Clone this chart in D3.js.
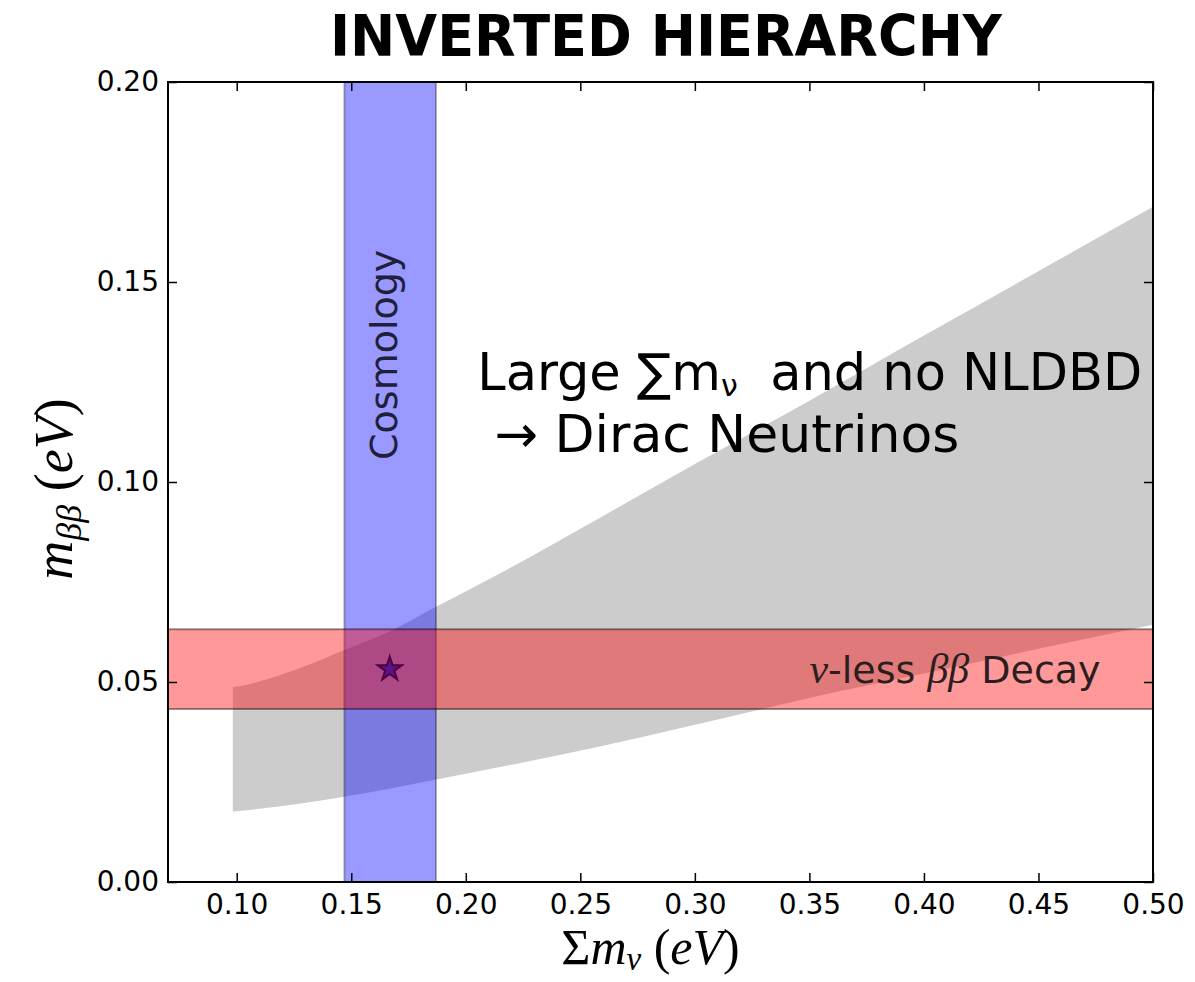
<!DOCTYPE html>
<html>
<head>
<meta charset="utf-8">
<script src="https://cdn.jsdelivr.net/npm/d3@7"></script>
<style>
  html, body { margin: 0; padding: 0; background: #fff; }
  svg { display: block; }
  text { white-space: pre; }
</style>
</head>
<body>
<svg id="chart" width="1195" height="982"></svg>
<script>
// Allowed region for the inverted hierarchy: upper and lower edges of m_bb vs sum of masses
const upperEdge = [
  [0.0983, 0.0487], [0.105, 0.0494], [0.115, 0.0510], [0.130, 0.0540],
  [0.147, 0.0580], [0.167, 0.0627], [0.1864, 0.0686], [0.2257, 0.0805],
  [0.250, 0.0883], [0.300, 0.1045], [0.350, 0.1203], [0.400, 0.1366],
  [0.450, 0.1527], [0.500, 0.1688]
];
const lowerEdge = [
  [0.0983, 0.0176], [0.110, 0.0183], [0.125, 0.0194], [0.147, 0.0213],
  [0.1872, 0.0256], [0.220, 0.0293], [0.257, 0.0337], [0.300, 0.0393],
  [0.3267, 0.0429], [0.350, 0.0460], [0.400, 0.0521], [0.450, 0.0583],
  [0.500, 0.0643]
];
// Cosmology bound on the sum of masses (eV)
const cosmologyBand = [0.147, 0.187];
// Neutrinoless double beta decay measurement of m_bb (eV)
const decayBand = [0.04325, 0.0632];
// Combined point
const bestPoint = [0.1668, 0.0532];

const xTicks = [0.10, 0.15, 0.20, 0.25, 0.30, 0.35, 0.40, 0.45, 0.50];
const yTicks = [0.00, 0.05, 0.10, 0.15, 0.20];

const svg = d3.select("#chart");
const pL = 168, pR = 1153, pT = 82, pB = 882;

const x = d3.scaleLinear().domain([0.07, 0.50]).range([pL, pR]);
const y = d3.scaleLinear().domain([0.0, 0.20]).range([pB, pT]);

svg.append("defs").append("clipPath").attr("id", "plotclip")
  .append("rect").attr("x", pL).attr("y", pT)
  .attr("width", pR - pL).attr("height", pB - pT);

const plot = svg.append("g").attr("clip-path", "url(#plotclip)");

// gray allowed region
const edgeLine = d3.line().x(d => x(d[0])).y(d => y(d[1])).curve(d3.curveMonotoneX);
const upPath = edgeLine(upperEdge);
const lowPath = edgeLine(lowerEdge.slice().reverse());
plot.append("path")
  .attr("d", upPath + "L" + lowPath.slice(1) + "Z")
  .attr("fill", "#cccccc");

// cosmology band
plot.append("rect")
  .attr("x", x(cosmologyBand[0])).attr("y", pT)
  .attr("width", x(cosmologyBand[1]) - x(cosmologyBand[0]))
  .attr("height", pB - pT)
  .attr("fill", "rgba(0,0,255,0.4)");
cosmologyBand.forEach(v => {
  plot.append("line")
    .attr("x1", x(v)).attr("x2", x(v)).attr("y1", pT).attr("y2", pB)
    .attr("stroke", "rgba(0,0,0,0.3)").attr("stroke-width", 2);
});

// cosmology label
plot.append("text")
  .attr("transform", `translate(${x((cosmologyBand[0] + cosmologyBand[1]) / 2) + 7},${y(0.1318)}) rotate(-90)`)
  .attr("text-anchor", "middle")
  .attr("font-family", "DejaVu Sans, sans-serif")
  .attr("font-size", 38)
  .attr("fill", "#20203a")
  .text("Cosmology");

// decay band
plot.append("rect")
  .attr("x", pL).attr("y", y(decayBand[1]))
  .attr("width", pR - pL)
  .attr("height", y(decayBand[0]) - y(decayBand[1]))
  .attr("fill", "rgba(255,0,0,0.4)");
decayBand.forEach(v => {
  plot.append("line")
    .attr("x1", pL).attr("x2", pR).attr("y1", y(v)).attr("y2", y(v))
    .attr("stroke", "rgba(0,0,0,0.42)").attr("stroke-width", 2);
});

// decay label
const dl = plot.append("text")
  .attr("x", x(0.350)).attr("y", y(0.0497))
  .attr("font-family", "DejaVu Sans, sans-serif")
  .attr("font-size", 38)
  .attr("fill", "#2c1e1e");
dl.append("tspan").attr("font-family", "Liberation Serif, serif").attr("font-style", "italic").attr("font-size", 42).text("ν");
dl.append("tspan").text("-less ");
dl.append("tspan").attr("font-family", "Liberation Serif, serif").attr("font-style", "italic").attr("font-size", 42).text("ββ");
dl.append("tspan").text(" Decay");

// star marker
plot.append("path")
  .attr("d", d3.symbol().type(d3.symbolStar).size(180)())
  .attr("transform", `translate(${x(bestPoint[0])},${y(bestPoint[1])})`)
  .attr("fill", "#5a1488")
  .attr("stroke", "#4e0040")
  .attr("stroke-width", 2);

// annotation
const ann = svg.append("g").attr("font-family", "DejaVu Sans, sans-serif").attr("fill", "#000");
const l1 = ann.append("text").attr("x", x(0.205)).attr("y", y(0.1230)).attr("font-size", 51);
l1.append("tspan").text("Large ∑m");
l1.append("tspan").attr("font-size", 30).attr("dy", 6).text("ν");
l1.append("tspan").attr("dy", -6).text("  and no NLDBD");
ann.append("text").attr("x", x(0.2125)).attr("y", y(0.1075)).attr("font-size", 52).text("→ Dirac Neutrinos");

// axes frame
svg.append("rect")
  .attr("x", pL).attr("y", pT).attr("width", pR - pL).attr("height", pB - pT)
  .attr("fill", "none").attr("stroke", "#000").attr("stroke-width", 2);

const tickLen = 9;
const axB = svg.append("g").attr("transform", `translate(0,${pB})`)
  .call(d3.axisBottom(x).tickValues(xTicks).tickSizeInner(-tickLen).tickSizeOuter(0).tickPadding(12).tickFormat(d3.format(".2f")));
const axT = svg.append("g").attr("transform", `translate(0,${pT})`)
  .call(d3.axisTop(x).tickValues(xTicks).tickSizeInner(-tickLen).tickSizeOuter(0).tickFormat(""));
const axL = svg.append("g").attr("transform", `translate(${pL},0)`)
  .call(d3.axisLeft(y).tickValues(yTicks).tickSizeInner(-tickLen).tickSizeOuter(0).tickPadding(9).tickFormat(d3.format(".2f")));
const axR = svg.append("g").attr("transform", `translate(${pR},0)`)
  .call(d3.axisRight(y).tickValues(yTicks).tickSizeInner(-tickLen).tickSizeOuter(0).tickFormat(""));
[axB, axT, axL, axR].forEach(a => {
  a.select(".domain").remove();
  a.selectAll(".tick line").attr("stroke", "#000").attr("stroke-width", 1.5);
  a.selectAll(".tick text").attr("font-family", "DejaVu Sans, sans-serif").attr("font-size", 28).attr("fill", "#000");
});
axB.selectAll(".tick text").attr("dy", "0.71em");

// axis labels
const xl = svg.append("text")
  .attr("x", (pL + pR) / 2 - 10).attr("y", 964)
  .attr("text-anchor", "middle")
  .attr("font-family", "Liberation Serif, serif")
  .attr("font-size", 50);
xl.append("tspan").text("Σ");
xl.append("tspan").attr("font-style", "italic").text("m");
xl.append("tspan").attr("font-style", "italic").attr("font-size", 33).attr("dy", 6).text("ν");
xl.append("tspan").attr("dy", -6).text(" (");
xl.append("tspan").attr("font-style", "italic").text("eV");
xl.append("tspan").text(")");

const yl = svg.append("text")
  .attr("transform", `translate(72,${(pT + pB) / 2 + 7}) rotate(-90)`)
  .attr("text-anchor", "middle")
  .attr("font-family", "Liberation Serif, serif")
  .attr("font-size", 54);
yl.append("tspan").attr("font-style", "italic").text("m");
yl.append("tspan").attr("font-style", "italic").attr("font-size", 36).attr("dy", 9).text("ββ");
yl.append("tspan").attr("dy", -9).text(" (");
yl.append("tspan").attr("font-style", "italic").text("eV");
yl.append("tspan").text(")");

// title
svg.append("text")
  .attr("x", 666).attr("y", 56)
  .attr("text-anchor", "middle")
  .attr("font-family", "DejaVu Sans, sans-serif")
  .attr("font-weight", "bold")
  .attr("font-size", 57)
  .attr("textLength", 672)
  .attr("lengthAdjust", "spacingAndGlyphs")
  .text("INVERTED HIERARCHY");
</script>
</body>
</html>
